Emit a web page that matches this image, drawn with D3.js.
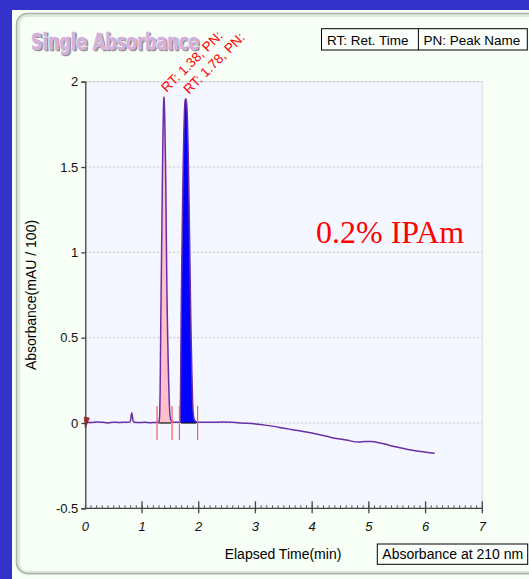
<!DOCTYPE html>
<html>
<head>
<meta charset="utf-8">
<script src="https://cdn.jsdelivr.net/npm/d3@7"></script>
<style>
  body { margin: 0; background: #3333cc; }
  svg { display: block; font-family: "Liberation Sans", Arial, sans-serif; }
</style>
</head>
<body>
<script>
// - Single absorbance chromatogram -

// Data (time in min, absorbance in mAU / 100)
const times = [
  0, 0.1, 0.2, 0.3, 0.4, 0.5, 0.6, 0.7, 0.78, 0.8, 0.81, 0.82, 0.83, 0.84, 0.86, 0.95, 1.05, 1.15, 1.25,
  1.265, 1.29, 1.3, 1.31, 1.32, 1.33, 1.34, 1.35, 1.36, 1.37, 1.38, 1.385, 1.39, 1.4, 1.41, 1.42, 1.43,
  1.44, 1.45, 1.46, 1.47, 1.48, 1.49, 1.5, 1.52, 1.53, 1.6,
  1.66, 1.67, 1.675, 1.68, 1.69, 1.7, 1.71, 1.72, 1.73, 1.74, 1.75, 1.76, 1.775, 1.79, 1.8, 1.81, 1.82,
  1.83, 1.84, 1.85, 1.86, 1.87, 1.88, 1.89, 1.9, 1.92, 1.95, 1.98,
  2.2, 2.4, 2.6, 2.75, 3.0, 3.2, 3.5, 3.8, 4.1, 4.35, 4.6, 4.82, 4.94, 5.05, 5.18, 5.3, 5.41, 5.53, 5.65,
  5.77, 5.88, 6.0, 6.16
];
const absorb = [
  0.005, 0.003, 0.006, 0.004, 0.0, 0.005, 0.003, 0.004, 0.005, 0.02, 0.045, 0.06, 0.04, 0.015, 0.004, 0.003, 0.004, 0.002, 0.003,
  0.003, 0.005, 0.01, 0.04, 0.2, 0.55, 0.85, 1.15, 1.45, 1.7, 1.87, 1.91, 1.9, 1.8, 1.62, 1.38, 1.05,
  0.75, 0.55, 0.38, 0.24, 0.13, 0.06, 0.03, 0.01, 0.005, 0.004,
  0.004, 0.01, 0.05, 0.2, 0.6, 0.9, 1.15, 1.38, 1.58, 1.73, 1.84, 1.89, 1.9, 1.86, 1.78, 1.66, 1.48,
  1.27, 1.05, 0.83, 0.62, 0.44, 0.28, 0.15, 0.07, 0.02, 0.008, 0.005,
  0.004, 0.006, 0.004, 0.0, -0.006, -0.014, -0.03, -0.047, -0.066, -0.086, -0.1, -0.112, -0.108, -0.109, -0.116, -0.125, -0.135, -0.144, -0.153,
  -0.16, -0.166, -0.171, -0.178
];

const peakRT = [1.38, 1.78];
const peakApex = [1.385, 1.775];
const peakTop = [1.91, 1.9];
const peakStart = [1.265, 1.66];
const peakEnd = [1.53, 1.98];

const xTicks = [0, 1, 2, 3, 4, 5, 6, 7];
const yTicks = [-0.5, 0, 0.5, 1, 1.5, 2];
const yTickLabels = ["-0.5", "0", "0.5", "1", "1.5", "2"];

// Chart size
const w = 529,
      h = 579;

const x = d3.scaleLinear().domain([0, 7]).range([85.3, 482.3]);
const y = d3.scaleLinear().domain([-0.5, 2]).range([508.3, 81.7]);

const svg = d3.select("body")
  .append("svg")
  .attr("width", w)
  .attr("height", h);

// Panel
svg.append("rect")
  .attr("x", 12).attr("y", 10)
  .attr("width", w).attr("height", h)
  .attr("fill", "#f7fff7");

svg.append("rect")
  .attr("x", 18).attr("y", 15)
  .attr("width", w).attr("height", 558)
  .attr("rx", 10)
  .attr("fill", "none")
  .attr("stroke", "#dfe8df")
  .attr("stroke-width", 4);

svg.append("rect")
  .attr("x", 16.5).attr("y", 13.5)
  .attr("width", w).attr("height", 560)
  .attr("rx", 11)
  .attr("fill", "none")
  .attr("stroke", "#a9b6a9")
  .attr("stroke-width", 1.5);

// Title (embossed look)
const title = svg.append("g")
  .style("font-family", "'DejaVu Sans Condensed', 'DejaVu Sans', sans-serif")
  .style("font-weight", "bold")
  .style("font-size", "23px");

[["#8a8a8a", 1.4, 1.4], ["#ffffff", -0.6, -0.6], ["#d3b1da", 0, 0]].forEach(s => {
  title.append("text")
    .attr("x", 31 + s[1])
    .attr("y", 49.5 + s[2])
    .attr("textLength", 168)
    .attr("lengthAdjust", "spacingAndGlyphs")
    .attr("fill", s[0])
    .attr("stroke", s[0])
    .attr("stroke-width", 0.7)
    .text("Single Absorbance");
});

// Legend box (top right)
const legend = svg.append("g");
legend.append("rect")
  .attr("x", 321.5).attr("y", 28.7)
  .attr("width", 205.8).attr("height", 21.3)
  .attr("fill", "#fbfffb")
  .attr("stroke", "#000");
legend.append("line")
  .attr("x1", 418.4).attr("x2", 418.4)
  .attr("y1", 28.7).attr("y2", 50)
  .attr("stroke", "#000");
legend.append("text")
  .attr("x", 327).attr("y", 44.5)
  .style("font-size", "13.5px")
  .text("RT: Ret. Time");
legend.append("text")
  .attr("x", 423.4).attr("y", 44.5)
  .style("font-size", "13.5px")
  .text("PN: Peak Name");

// Plot area
svg.append("rect")
  .attr("x", x(0)).attr("y", y(2))
  .attr("width", x(7) - x(0)).attr("height", y(-0.5) - y(2))
  .attr("fill", "#f4f7ff")
  .attr("stroke", "#dcdcdc");

// Grid
svg.append("g")
  .selectAll("line")
  .data(yTicks.filter(d => d > -0.5))
  .enter()
  .append("line")
  .attr("x1", x(0)).attr("x2", x(7))
  .attr("y1", d => y(d)).attr("y2", d => y(d))
  .attr("stroke", "#c4c4c4")
  .attr("stroke-dasharray", "2,2");

// Trace points
const pts = times.map((t, i) => [t, absorb[i]]);

// Peak fills
const area = d3.area()
  .x(d => x(d[0]))
  .y0(y(0))
  .y1(d => y(d[1]))
  .curve(d3.curveMonotoneX);

const peakColor = ["#ffbfcb", "#0000ff"];

peakStart.forEach((s, i) => {
  svg.append("path")
    .datum(pts.filter(p => p[0] >= s && p[0] <= peakEnd[i]))
    .attr("d", area)
    .attr("fill", peakColor[i]);
});

// Peak baselines
svg.append("g")
  .selectAll("line")
  .data(peakStart)
  .enter()
  .append("line")
  .attr("x1", (d, i) => x(d + 0.03))
  .attr("x2", (d, i) => x(peakEnd[i] - 0.02))
  .attr("y1", y(0)).attr("y2", y(0))
  .attr("stroke", "#111")
  .attr("stroke-width", 1.2);

// Trace
const line = d3.line()
  .x(d => x(d[0]))
  .y(d => y(d[1]))
  .curve(d3.curveMonotoneX);

svg.append("path")
  .datum(pts)
  .attr("d", line)
  .attr("fill", "none")
  .attr("stroke", "#6a2ea6")
  .attr("stroke-width", 1.5);

// Peak start / end markers
svg.append("g")
  .selectAll("line")
  .data(peakStart.concat(peakEnd))
  .enter()
  .append("line")
  .attr("x1", d => x(d)).attr("x2", d => x(d))
  .attr("y1", y(0.1)).attr("y2", y(-0.1))
  .attr("stroke", "#ff5a5a")
  .attr("stroke-width", 1.2);

// Injection marker
svg.append("path")
  .attr("d", "M" + (x(0) - 1) + "," + (y(0) - 6) + "L" + (x(0) + 4) + "," + (y(0) - 5) + "L" + x(0) + "," + (y(0) + 5) + "Z")
  .attr("fill", "#ee1111")
  .attr("stroke", "#661111")
  .attr("stroke-width", 0.6);

// Peak labels
svg.append("g")
  .selectAll("text")
  .data(peakRT)
  .enter()
  .append("text")
  .attr("transform", (d, i) => "translate(" + (x(peakApex[i]) + 3) + "," + (y(peakTop[i]) - 4) + ") rotate(-45)")
  .attr("fill", "#ff0000")
  .style("font-size", "13.5px")
  .text(d => "RT: " + d.toFixed(2) + ", PN:");

// Y axis
const yAxis = svg.append("g")
  .attr("transform", "translate(" + x(0) + ",0)")
  .call(d3.axisLeft(y).tickValues(yTicks).tickSize(4).tickPadding(3)
    .tickFormat((d, i) => yTickLabels[i]));
yAxis.select(".domain").attr("stroke", "#444").attr("stroke-width", 1.3);
yAxis.selectAll(".tick line").attr("stroke", "#444").attr("stroke-width", 1.3);
yAxis.selectAll(".tick text")
  .style("font-family", "'Liberation Sans', Arial, sans-serif")
  .style("font-size", "13px")
  .attr("fill", "#111");

// X axis
const xAxis = svg.append("g");
xAxis.append("line")
  .attr("x1", x(0)).attr("x2", x(7))
  .attr("y1", y(-0.5)).attr("y2", y(-0.5))
  .attr("stroke", "#444").attr("stroke-width", 1.3);

xAxis.selectAll(".minor")
  .data(d3.range(0, 71).map(d => d / 10))
  .enter()
  .append("line")
  .attr("class", "minor")
  .attr("x1", d => x(d)).attr("x2", d => x(d))
  .attr("y1", y(-0.5) - 3).attr("y2", y(-0.5))
  .attr("stroke", "#555");

xAxis.selectAll(".major")
  .data(xTicks.slice(1))
  .enter()
  .append("line")
  .attr("class", "major")
  .attr("x1", d => x(d)).attr("x2", d => x(d))
  .attr("y1", y(-0.5) - 7).attr("y2", y(-0.5) + 5)
  .attr("stroke", "#444").attr("stroke-width", 1.3);

xAxis.selectAll("text")
  .data(xTicks)
  .enter()
  .append("text")
  .attr("x", d => x(d))
  .attr("y", 531)
  .attr("text-anchor", "middle")
  .style("font-size", "13px")
  .style("font-style", "italic")
  .attr("fill", "#111")
  .text(d => d);

// Axis titles
svg.append("text")
  .attr("x", 283).attr("y", 559)
  .attr("text-anchor", "middle")
  .style("font-size", "14px")
  .text("Elapsed Time(min)");

svg.append("text")
  .attr("transform", "translate(36,295) rotate(-90)")
  .attr("text-anchor", "middle")
  .style("font-size", "14px")
  .text("Absorbance(mAU / 100)");

// Wavelength box
svg.append("rect")
  .attr("x", 377.3).attr("y", 544)
  .attr("width", 150.4).attr("height", 20.3)
  .attr("fill", "#fbfffb")
  .attr("stroke", "#000");
svg.append("text")
  .attr("x", 382.3).attr("y", 559)
  .style("font-size", "14px")
  .text("Absorbance at 210 nm");

// Sample annotation
svg.append("text")
  .attr("x", 316).attr("y", 243)
  .attr("fill", "#ff0000")
  .style("font-family", "'Liberation Serif', 'Times New Roman', serif")
  .style("font-size", "32px")
  .text("0.2% IPAm");
</script>
</body>
</html>
